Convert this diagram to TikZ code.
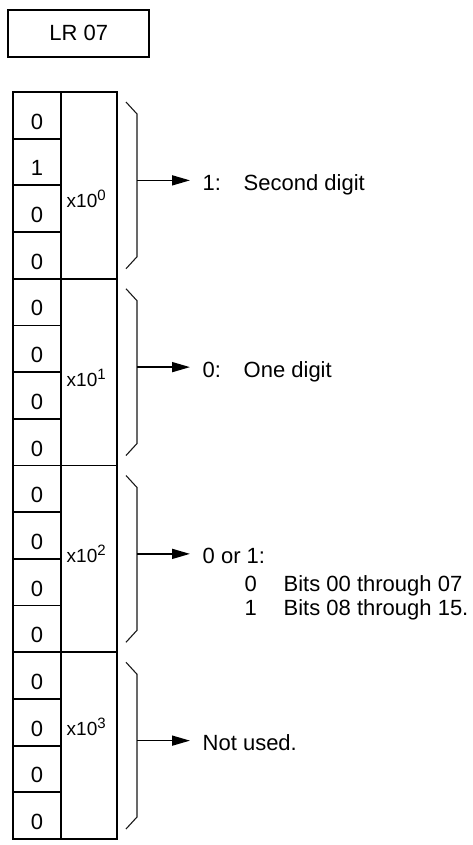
\documentclass[tikz,border=0pt]{standalone}
\usepackage{fontspec}
\setmainfont{Liberation Sans}
\usetikzlibrary{arrows.meta,positioning,calc}

\tikzset{
  cell/.style={draw, line width=1.8pt, minimum width=48pt, minimum height=46.69pt,
    inner sep=0pt, text height=27.8pt, text depth=0pt},
  multbox/.style={draw, line width=1.8pt, minimum width=56pt, minimum height=186.75pt, inner sep=0pt},
  multlab/.style={anchor=base west, inner sep=0pt, font=\fontsize{19}{22}\selectfont},
  txt/.style={anchor=west, inner xsep=12.5pt, inner ysep=0pt, text height=20pt, text depth=0pt},
  brace/.style={line width=1.1pt, black!90},
  pointer/.style={line width=1.6pt, -{Triangle[length=18pt,width=10pt]}}
}
\newcommand{\expo}[1]{\raisebox{6.9pt}{\fontsize{15}{17}\selectfont #1}}

\begin{document}
\begin{tikzpicture}[x=1pt, y=-1pt, every node/.style={font=\fontsize{22}{26}\selectfont}]
  \useasboundingbox (0,0) rectangle (473,845);
  % register name
  \node[draw, line width=1.8pt, minimum width=141pt, minimum height=46.7pt, inner sep=0pt] (lr) at (78.8,33.3) {LR 07};
  % bit cells
  \foreach \r [count=\n from 0] in {0,1,0,0,0,0,0,0,0,0,0,0,0,0,0,0} {
    \node[cell] (b\n) at (37, {92+46.6875*(\n+0.5)}) {\r};
  }
  % digit groups, braces and arrows
  \foreach \g/\ly in {0/207.8, 1/386.8, 2/562.8, 3/735.8} {
    \node[multbox] (m\g) at (89, {92+186.75*(\g+0.5)}) {};
    \node[multlab] (e\g) at (66.5, \ly) {x10\expo{\g}};
    \draw[brace] (126, {92+186.75*\g+10}) -- (137, {92+186.75*\g+22})
      -- (137, {92+186.75*(\g+1)-22}) -- (126, {92+186.75*(\g+1)-10});
    \coordinate (a\g) at (137, {92+186.75*(\g+0.5)-5});
    \coordinate (p\g) at (190, {92+186.75*(\g+0.5)-5});
  }
  % meanings
  \node[txt] (t0) at (p0) {\makebox[41pt][l]{1:}Second digit};
  \node[txt] (t1) at (p1) {\makebox[41pt][l]{0:}One digit};
  \node[txt] (t2) at (p2) {0 or 1:};
  \node[txt] (s0) at (190, 581) {\hspace*{42pt}\makebox[39pt][l]{0}Bits 00 through 07};
  \node[txt] (s1) at (190, 605) {\hspace*{42pt}\makebox[39pt][l]{1}Bits 08 through 15.};
  \node[txt] (t3) at (p3) {Not used.};
  \foreach \g in {0,...,3} {
    \draw[pointer] (a\g) -- (t\g.west);
  }
\end{tikzpicture}
\end{document}
